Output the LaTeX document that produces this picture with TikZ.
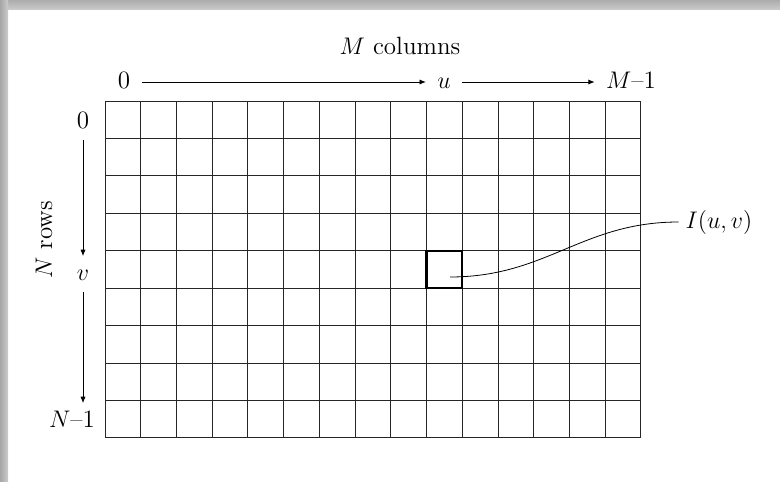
\documentclass[tikz,border=0pt]{standalone}
\usetikzlibrary{arrows.meta}
\begin{document}
\begin{tikzpicture}[
  x=0.5pt, y=-0.5pt,
  font=\fontsize{12.5}{15}\selectfont,
  IdxLabel/.style={inner sep=5.5pt, text height=0.65em, text depth=0pt},
  IdxArrow/.style={-{Latex[length=3.2pt, width=2.6pt]}, line width=0.45pt},
  GridLine/.style={line width=0.5pt, black!85},
  ]
\useasboundingbox (0,0) rectangle (780,481);
% frame of the screenshot
\shade[top color=gray!65, bottom color=gray!40] (0,0) rectangle (780,10);
\shade[left color=gray!70, right color=gray!40] (0,0) rectangle (8,481);

% the image grid: 15 columns, 9 rows
\foreach \i in {0,...,15}
  \draw [GridLine] ({105+\i*35.73},101) -- ({105+\i*35.73},438);
\foreach \j in {0,...,9}
  \draw [GridLine] (105,{101+\j*37.44}) -- (641,{101+\j*37.44});

\node [draw, line width=1.1pt, inner sep=0pt, minimum width=17.87pt,
       minimum height=18.72pt] (cell) at (444.4,269.5) {};

% column index
\node (mcol) at (400,46) {$M$ columns};
\node [IdxLabel] (c0) at (124,82) {0};
\node [IdxLabel] (cu) at (444,82) {$u$};
\node [IdxLabel] (cM) at (631,82) {$M$--1};
\draw [IdxArrow] (c0) -- (cu);
\draw [IdxArrow] (cu) -- (cM);

% row index
\node [rotate=90] (nrows) at (44,240) {$N$ rows};
\node [IdxLabel] (r0) at (83,122) {0};
\node [IdxLabel] (rv) at (83,274) {$v$};
\node [IdxLabel] (rN) at (72,421) {$N$--1};
\draw [IdxArrow] (r0) -- (rv);
\draw [IdxArrow] (rv) -- (rv |- rN.north);

% pixel label
\node (pix) at (719,222) {$I(u,v)$};
\coordinate (p) at (450,277);
\draw [line width=0.4pt] (p) to[out=0, in=180, looseness=1.05] (pix.west);
\end{tikzpicture}
\end{document}
